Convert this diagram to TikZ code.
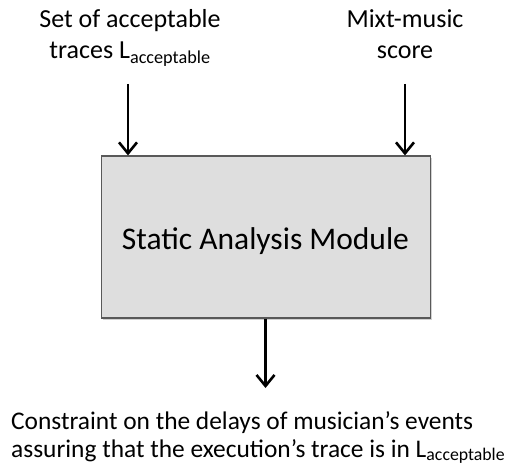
\documentclass[tikz,border=0pt]{standalone}
\usepackage{fontspec}
\setmainfont{Carlito}
\usetikzlibrary{arrows.meta,positioning,shadows}

\tikzset{
  module/.style={draw=black!65,line width=1.2pt,fill=black!13,minimum width=329pt,minimum height=162pt,
    drop shadow={shadow xshift=1.5pt,shadow yshift=-1.5pt,fill=black!35},font=\fontsize{31.5}{36}\selectfont},
  label/.style={inner sep=0pt,align=center,font=\fontsize{26}{31}\selectfont},
  flow/.style={line width=2.6pt,-{Straight Barb[length=11pt,width=18pt]}}
}

\begin{document}
\begin{tikzpicture}[x=1pt,y=-1pt]
  \useasboundingbox (0,0) rectangle (513,468);

  \node[module] (sam) at (266,237) {};
  \node[inner sep=0pt,font=\fontsize{31.5}{36}\selectfont,anchor=base] (samtext) at (265.5,249) {Static Analysis Module};

  % base anchor = last line
  \node[label,anchor=base] (traces) at (130,59) {Set of acceptable\\traces L\textsubscript{acceptable}};
  \node[label,anchor=base] (score) at (405,59) {Mixt-music\\score};
  \node[label,align=left,anchor=base west,font=\fontsize{25.4}{28}\selectfont] (constraint) at (11,457)
    {Constraint on the delays of musician’s events\\assuring that the execution’s trace is in L\textsubscript{acceptable}};

  \coordinate (tin) at (128,84);
  \coordinate (sin) at (405,84);
  \coordinate (cout) at (265.5,388);

  \draw[flow] (tin) -- (tin |- sam.north);
  \draw[flow] (sin) -- (sin |- sam.north);
  \draw[flow] (sam.south -| cout) -- (cout);
\end{tikzpicture}
\end{document}
